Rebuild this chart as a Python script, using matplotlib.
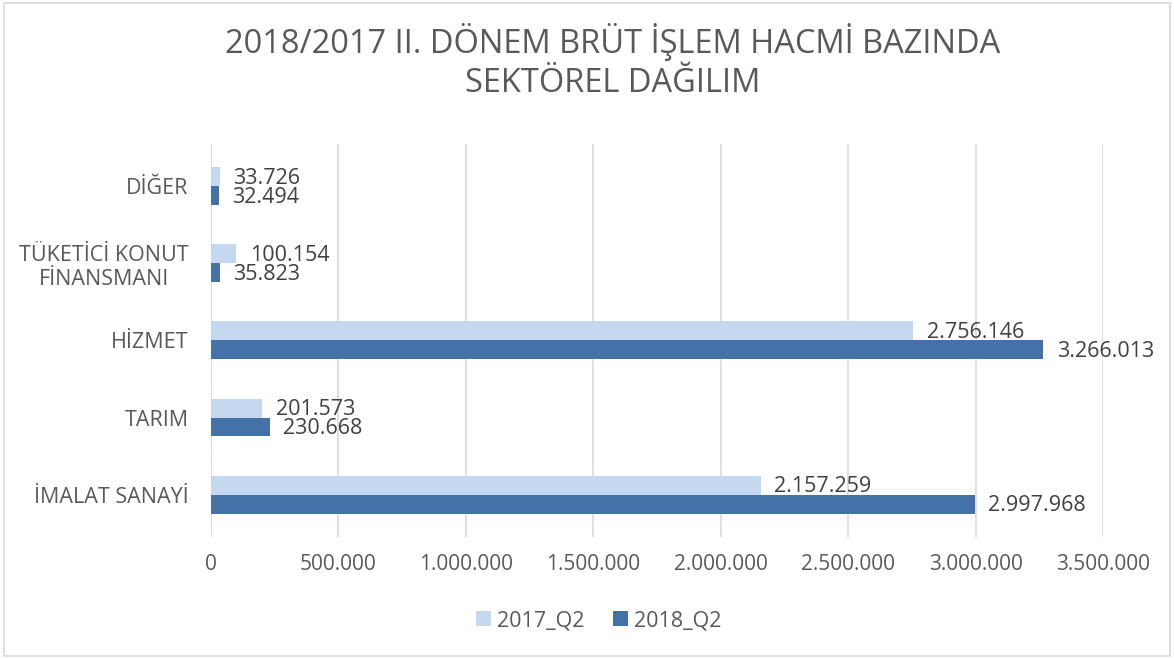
import numpy as np
import matplotlib
matplotlib.use('Agg')
import matplotlib.pyplot as plt
from matplotlib.patches import Rectangle

plt.rcParams['font.family'] = ['Open Sans', 'DejaVu Sans']

# Data (bottom to top)
categories = ['İMALAT SANAYİ', 'TARIM', 'HİZMET', 'TÜKETİCİ KONUT\nFİNANSMANI', 'DİĞER']
vals_2017 = [2157259, 201573, 2756146, 100154, 33726]
vals_2018 = [2997968, 230668, 3266013, 35823, 32494]
series_names = ['2017_Q2', '2018_Q2']
xticks = [0, 500000, 1000000, 1500000, 2000000, 2500000, 3000000, 3500000]

light = '#C6D8F0'
dark = '#4472A8'
grey = '#595959'
dgrey = '#404040'


def tr_fmt(v):
    return f'{v:,}'.replace(',', '.')


fig = plt.figure(figsize=(11.74, 6.59), dpi=100)
ax = fig.add_axes([0.1797, 0.185, 0.7598, 0.597])

y = np.arange(len(categories))
h = 0.245
ax.barh(y + h / 2, vals_2017, height=h, color=light, label=series_names[0], zorder=3)
ax.barh(y - h / 2, vals_2018, height=h, color=dark, label=series_names[1], zorder=3)

off = 52000
for yi, v in zip(y, vals_2017):
    ax.text(v + off, yi + h / 2 - 0.02, tr_fmt(v), va='center', ha='left', fontsize=15.5, color=dgrey)
for yi, v in zip(y, vals_2018):
    ax.text(v + off, yi - h / 2 - 0.02, tr_fmt(v), va='center', ha='left', fontsize=15.5, color=dgrey)

ax.set_xlim(0, 3500000)
ax.set_ylim(-0.55, 4.55)
ax.set_xticks(xticks)
ax.set_xticklabels([tr_fmt(t) for t in xticks], fontsize=15, color=grey)
ax.set_yticks(y)
ax.set_yticklabels(categories, fontsize=15.5, color=grey, multialignment='center')
ax.tick_params(length=0, pad=12)
ax.tick_params(axis='y', pad=16)
ax.grid(axis='x', color='#D9D9D9', linewidth=1.2, zorder=0)
for s in ax.spines.values():
    s.set_visible(False)
ax.axvline(0, color='#D9D9D9', linewidth=1.2, zorder=1)

fig.text(0.522, 0.907, '2018/2017 II. DÖNEM BRÜT İŞLEM HACMİ BAZINDA\nSEKTÖREL DAĞILIM',
         ha='center', va='center', fontsize=23.5, color=grey, linespacing=1.25)

fig.legend(loc='center', bbox_to_anchor=(0.51, 0.058), ncol=2, frameon=False,
           fontsize=15.5, labelcolor=grey, handlelength=0.7, handleheight=0.7,
           columnspacing=1.3, handletextpad=0.3)

fig.patches.append(Rectangle((0.003, 0.004), 0.994, 0.992, transform=fig.transFigure,
                             fill=False, edgecolor='#D9D9D9', linewidth=1.2))

fig.savefig('out.png', dpi=100, facecolor='white')
